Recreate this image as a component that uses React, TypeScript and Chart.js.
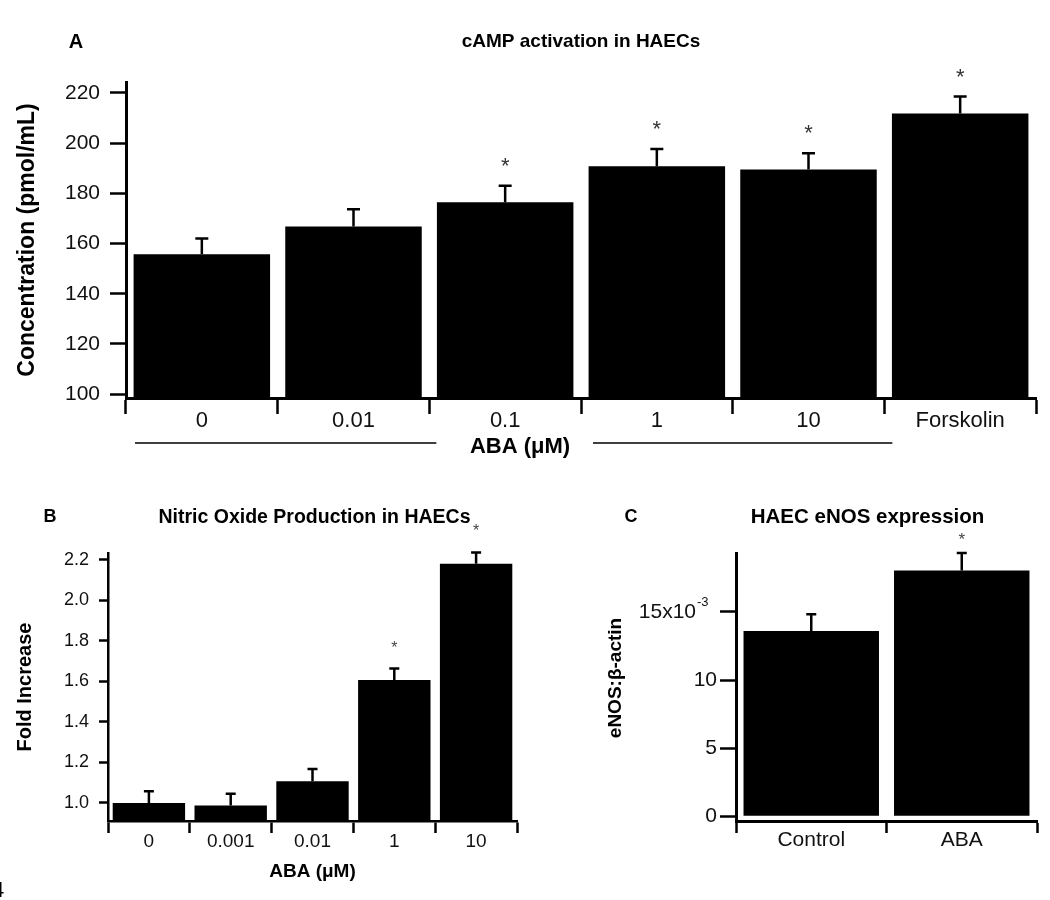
import React, { useEffect, useRef } from "react";
import { Chart, registerables } from "chart.js";

Chart.register(...registerables);

const FONT = "'Liberation Sans', Arial, Helvetica, sans-serif";

// ---------- Panel A: cAMP activation in HAECs ----------
const campTitle = "cAMP activation in HAECs";
const campCategories = ["0", "0.01", "0.1", "1", "10", "Forskolin"];
const campValues = [155.7, 166.8, 176.4, 190.8, 189.5, 211.8];
const campErrors = [6.3, 6.8, 6.6, 6.8, 6.4, 6.7];
const campSignificant = [false, false, true, true, true, true];
const campTicks = [100, 120, 140, 160, 180, 200, 220];

// ---------- Panel B: Nitric Oxide Production in HAECs ----------
const noTitle = "Nitric Oxide Production in HAECs";
const noCategories = ["0", "0.001", "0.01", "1", "10"];
const noValues = [1.0, 0.987, 1.107, 1.607, 2.18];
const noErrors = [0.058, 0.059, 0.061, 0.056, 0.056];
const noSignificant = [false, false, false, true, true];
const noTicks = [1.0, 1.2, 1.4, 1.6, 1.8, 2.0, 2.2];

// ---------- Panel C: HAEC eNOS expression (values in units of 10^-3) ----------
const enosTitle = "HAEC eNOS expression";
const enosYTitle = "eNOS:\u03B2-actin";
const enosCategories = ["Control", "ABA"];
const enosValues = [13.6, 18.05];
const enosErrors = [1.23, 1.28];
const enosSignificant = [false, true];
const enosTicks = [0, 5, 10, 15];

Chart.defaults.font.family = FONT;
Chart.defaults.color = "#000";

const errorBarPlugin = {
  id: "errorBars",
  afterDatasetsDraw(chart: any, _args: any, opts: any) {
    const { errors, significant, capWidth, lineWidth, starFont, starOffset, starColor } = opts;
    const meta = chart.getDatasetMeta(0);
    const ys = chart.scales.y;
    const values = chart.data.datasets[0].data as number[];
    const ctx = chart.ctx;
    ctx.save();
    ctx.strokeStyle = "#000";
    ctx.lineWidth = lineWidth;
    meta.data.forEach((bar: any, i: number) => {
      const x = bar.x;
      const yTop = bar.y;
      const yErr = ys.getPixelForValue(values[i] + errors[i]);
      ctx.beginPath();
      ctx.moveTo(x, yTop);
      ctx.lineTo(x, yErr);
      ctx.moveTo(x - capWidth / 2, yErr);
      ctx.lineTo(x + capWidth / 2, yErr);
      ctx.stroke();
      if (significant[i]) {
        ctx.font = starFont;
        ctx.fillStyle = starColor;
        ctx.textAlign = "center";
        ctx.textBaseline = "alphabetic";
        ctx.fillText("*", x, yErr - starOffset);
      }
    });
    ctx.restore();
  },
};

function makeConfig(p: any) {
  return {
    type: "bar",
    data: {
      labels: p.categories,
      datasets: [
        {
          data: p.values,
          backgroundColor: "#000",
          borderWidth: 0,
          barPercentage: p.barPct,
          categoryPercentage: 1,
        },
      ],
    },
    options: {
      responsive: false,
      animation: false,
      events: [],
      layout: { padding: p.padding },
      plugins: {
        legend: { display: false },
        tooltip: { enabled: false },
        title: { display: false },
        errorBars: p.errorBars,
      },
      scales: {
        x: {
          type: "category",
          offset: true,
          grid: {
            display: true,
            offset: true,
            drawOnChartArea: false,
            drawTicks: true,
            tickLength: p.xTickLen,
            tickWidth: p.tickW,
            tickColor: "#000",
          },
          border: { display: true, color: "#000", width: p.axisW },
          ticks: {
            font: { family: FONT, size: p.xFont, lineHeight: 1 },
            color: "#111",
            padding: p.xPad,
            maxRotation: 0,
            autoSkip: false,
          },
          title: p.xTitle || { display: false },
          afterFit: (s: any) => {
            s.height = p.xHeight;
          },
        },
        y: {
          type: "linear",
          min: p.yMin,
          max: p.yMax,
          afterBuildTicks: (s: any) => {
            s.ticks = p.ticks.map((v: number) => ({ value: v }));
          },
          grid: {
            display: true,
            drawOnChartArea: false,
            drawTicks: true,
            tickLength: p.yTickLen,
            tickWidth: p.tickW,
            tickColor: "#000",
          },
          border: { display: true, color: "#000", width: p.axisW },
          ticks: {
            font: { family: FONT, size: p.yFont, lineHeight: 1 },
            color: "#111",
            padding: p.yPad,
            callback: p.tickFmt,
          },
          title: p.yTitle || { display: false },
          afterFit: (s: any) => {
            s.width = p.yWidth;
          },
        },
      },
    },
    plugins: [errorBarPlugin, p.decor],
  };
}

const decorA = {
  id: "decorA",
  afterDraw(chart: any) {
    const { ctx, chartArea: ca } = chart;
    ctx.save();
    ctx.fillStyle = "#000";
    ctx.textAlign = "center";
    ctx.textBaseline = "middle";
    ctx.font = `bold 19px ${FONT}`;
    ctx.fillText(campTitle, (ca.left + ca.right) / 2, 42);
    ctx.font = `bold 20px ${FONT}`;
    ctx.fillText("A", 76, 42);
    const cw = (ca.right - ca.left) / campCategories.length;
    const b = (k: number) => ca.left + k * cw;
    const ly = ca.bottom + 45;
    ctx.strokeStyle = "#000";
    ctx.lineWidth = 1.5;
    ctx.beginPath();
    ctx.moveTo(b(0) + 9, ly);
    ctx.lineTo(b(2) + 7, ly);
    ctx.moveTo(b(3) + 12, ly);
    ctx.lineTo(b(5) + 8, ly);
    ctx.stroke();
    ctx.font = `bold 22px ${FONT}`;
    ctx.fillText("ABA (\u03BCM)", b(3) - 61, ly + 4);
    ctx.restore();
  },
};

const decorB = {
  id: "decorB",
  afterDraw(chart: any) {
    const { ctx, chartArea: ca } = chart;
    ctx.save();
    ctx.fillStyle = "#000";
    ctx.textAlign = "center";
    ctx.textBaseline = "middle";
    ctx.font = `bold 19.5px ${FONT}`;
    ctx.fillText(noTitle, (ca.left + ca.right) / 2 + 2, 28);
    ctx.font = `bold 18px ${FONT}`;
    ctx.fillText("B", 50, 27);
    ctx.restore();
  },
};

const decorC = {
  id: "decorC",
  afterDraw(chart: any) {
    const { ctx, chartArea: ca } = chart;
    const ys = chart.scales.y;
    ctx.save();
    ctx.fillStyle = "#000";
    ctx.textAlign = "center";
    ctx.textBaseline = "middle";
    ctx.font = `bold 20.5px ${FONT}`;
    ctx.fillText(enosTitle, (ca.left + ca.right) / 2 - 19, 27);
    ctx.font = `bold 18px ${FONT}`;
    ctx.fillText("C", 51, 27);
    // rotated y-axis title
    ctx.save();
    ctx.translate(36, (ca.top + ca.bottom) / 2 - 9);
    ctx.rotate(-Math.PI / 2);
    ctx.font = `bold 19px ${FONT}`;
    ctx.fillText(enosYTitle, 0, 0);
    ctx.restore();
    // superscript exponent of the 15x10^-3 tick label
    ctx.font = `21px ${FONT}`;
    const sw = ctx.measureText("\u2003").width;
    const labelRight = ca.left - ys.options.grid.tickLength - ys.options.ticks.padding;
    ctx.font = `13px ${FONT}`;
    ctx.fillStyle = "#111";
    ctx.textAlign = "left";
    ctx.fillText("-3", labelRight - sw + 1, ys.getPixelForValue(15) - 10);
    ctx.restore();
  },
};

const cfgA = makeConfig({
  categories: campCategories,
  values: campValues,
  barPct: 0.9,
  padding: { left: 0, top: 82, right: 14, bottom: 0 },
  errorBars: {
    errors: campErrors,
    significant: campSignificant,
    capWidth: 13,
    lineWidth: 2.5,
    starFont: `22px ${FONT}`,
    starOffset: 13,
    starColor: "#333",
  },
  xTickLen: 16,
  yTickLen: 16,
  tickW: 2.5,
  axisW: 3,
  xFont: 22,
  yFont: 21,
  xPad: -4,
  yPad: 10,
  xHeight: 72,
  yWidth: 126,
  yMin: 98.5,
  yMax: 224.3,
  ticks: campTicks,
  tickFmt: (v: any) => String(v),
  yTitle: {
    display: true,
    text: "Concentration (pmol/mL)",
    font: { family: FONT, size: 23, weight: "bold" },
    color: "#000",
    padding: { top: 14, bottom: 0 },
  },
  decor: decorA,
});

const cfgB = makeConfig({
  categories: noCategories,
  values: noValues,
  barPct: 0.885,
  padding: { left: 0, top: 63, right: 63, bottom: 0 },
  errorBars: {
    errors: noErrors,
    significant: noSignificant,
    capWidth: 10,
    lineWidth: 2.5,
    starFont: `16px ${FONT}`,
    starOffset: 16,
    starColor: "#444",
  },
  xTickLen: 12,
  yTickLen: 9,
  tickW: 2.5,
  axisW: 2.5,
  xFont: 19,
  yFont: 18,
  xPad: -1,
  yPad: 10,
  xHeight: 79,
  yWidth: 108,
  yMin: 0.911,
  yMax: 2.233,
  ticks: noTicks,
  tickFmt: (v: any) => Number(v).toFixed(1),
  xTitle: {
    display: true,
    text: "ABA (\u03BCM)",
    font: { family: FONT, size: 19, weight: "bold" },
    color: "#000",
    padding: { top: 0, bottom: 17 },
  },
  yTitle: {
    display: true,
    text: "Fold Increase",
    font: { family: FONT, size: 20, weight: "bold" },
    color: "#000",
    padding: { top: 13.5, bottom: 0 },
  },
  decor: decorB,
});

const cfgC = makeConfig({
  categories: enosCategories,
  values: enosValues,
  barPct: 0.9,
  padding: { left: 0, top: 63, right: 13, bottom: 0 },
  errorBars: {
    errors: enosErrors,
    significant: enosSignificant,
    capWidth: 10,
    lineWidth: 2.5,
    starFont: `17px ${FONT}`,
    starOffset: 8.5,
    starColor: "#444",
  },
  xTickLen: 12,
  yTickLen: 16,
  tickW: 2.5,
  axisW: 3,
  xFont: 21,
  yFont: 21,
  xPad: -3,
  yPad: 3,
  xHeight: 79,
  yWidth: 156,
  yMin: -0.345,
  yMax: 19.33,
  ticks: enosTicks,
  tickFmt: (v: any) => (Number(v) === 15 ? "15x10\u2003" : String(v)),
  decor: decorC,
});

export default function App() {
  const aRef = useRef<HTMLCanvasElement>(null);
  const bRef = useRef<HTMLCanvasElement>(null);
  const cRef = useRef<HTMLCanvasElement>(null);

  useEffect(() => {
    const charts = [
      new Chart(aRef.current as HTMLCanvasElement, cfgA as any),
      new Chart(bRef.current as HTMLCanvasElement, cfgB as any),
      new Chart(cRef.current as HTMLCanvasElement, cfgC as any),
    ];
    return () => charts.forEach((c) => c.destroy());
  }, []);

  return (
    <div
      style={{
        position: "absolute",
        left: 0,
        top: 0,
        width: 1050,
        height: 900,
        background: "#fff",
        overflow: "hidden",
      }}
    >
      <canvas
        ref={aRef}
        width={1050}
        height={470}
        style={{ position: "absolute", left: 0, top: 0, width: 1050, height: 470 }}
      />
      <canvas
        ref={bRef}
        width={580}
        height={410}
        style={{ position: "absolute", left: 0, top: 490, width: 580, height: 410 }}
      />
      <canvas
        ref={cRef}
        width={470}
        height={410}
        style={{ position: "absolute", left: 580, top: 490, width: 470, height: 410 }}
      />
      <div
        style={{
          position: "absolute",
          left: -8,
          top: 879,
          fontFamily: FONT,
          fontSize: 22,
          lineHeight: "22px",
          color: "#000",
        }}
      >
        4
      </div>
    </div>
  );
}
